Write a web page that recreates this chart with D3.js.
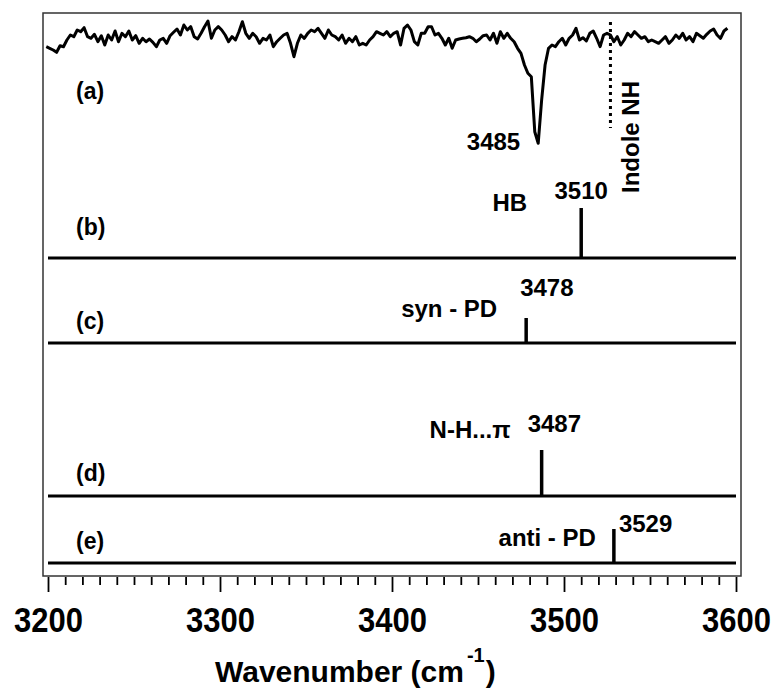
<!DOCTYPE html>
<html>
<head>
<meta charset="utf-8">
<script src="https://cdn.jsdelivr.net/npm/d3@7"></script>
<style>
  body { margin: 0; background: #fff; }
  svg { display: block; font-family: "Liberation Sans", Arial, sans-serif; font-weight: bold; }
</style>
</head>
<body>
<div id="chart"></div>
<script>
// ---- data ----
var xTicks = [3200, 3300, 3400, 3500, 3600];
var panelIds = ["(a)", "(b)", "(c)", "(d)", "(e)"];

// experimental trace (a), 3199..3595 cm-1 every 2 cm-1, relative signal
var traceStart = 3199, traceStep = 2;
var traceVals = [
  -1.7, -3.3, -5, -7.3, -0.7, -1.7, 5, 10, 8.3, 15,
  13.3, 17.3, 8.3, 6.7, 10.7, 3.3, 9.3, 0, 10, 5,
  14, 3.3, 11.7, 8.3, 14, 5, 9.3, 1.7, 6.7, 3.3,
  6, 2.7, -1.7, 5, 6.7, 1.7, 9.3, 12.7, 16, 10,
  20, 15, 18.3, 8.3, 6, 11.7, 18.3, 24, 6.7, 15,
  18.3, 15, 10, 3.3, 8.3, 5, 13.3, 23.3, 11.7, 6.7,
  11.7, 8.3, 1.7, 6.7, 5, 10, -1.7, 3.3, 6.7, 10,
  11.7, 1.7, -11.7, 1.7, 10, 6.7, 11.7, 15, 13.3, 16.7,
  11.7, 6.7, 15, 10, 8.3, 5, 10, 1.7, 6.7, 3.3,
  8.3, 0, 1.7, 0, 5, 8.3, 13.3, 11.7, 10, 13.3,
  8.3, 11.7,
  13.3, 0, 16.7, 20, 15, 3.3, 0, 11.7, 11.7, 18.3,
  18.3, 10, 11.7, 6.7, 0, 6.7, -3.3, 5, 6, 6.7,
  7.3, 8.3, 6.7, 3.3, 6, 9.3, 10, 5, 11.7, 1.7,
  13.3, 6.7, 11.7, 6.7, 3.3, -3.3, -8.3, -20, -28.3, -31.7,
  -86.7, -98.3, -55, -20, -3.3, 0, -1.7, 3.3, 6.7, 0,
  6.7, 10, 16.7,
  5, 7.3, 4, 11.7, 14, 6.7, -1.7, 10, 11.7, 10,
  3.3, 8.3, 0, 5, 11.7, 8.3, 13.3, 10, 6.7, 8.3,
  3.3, 5, 3.3, 1.7, 5, 8.3, 1.7, 5, 10, 6.7,
  11.7, 5, 8.3, 3.3, 11.7, 9.3, 6.7, 10.7, 14, 16,
  10, 6.7, 14, 16.7
];
var dipFreq = 3485;
var indoleFreq = 3527;

// calculated sticks (b)-(e)
var stickNames = ["HB", "syn - PD", "N-H...\u03c0", "anti - PD"];
var stickFreqs = [3510, 3478, 3487, 3529];
var stickIntens = [50, 25, 46, 34];

// ---- layout ----
var W = 775, H = 691;
var baseY = [258, 343, 496, 563];          // baselines of (b)..(e)
var idY = [99, 235, 329, 481, 549];          // label baselines
// [name dx (end), name y above base, freq dx, freq anchor, freq y above base]
var lab = [
  [-54, 47, 0, "middle", 59],
  [-29, 26, -6, "start", 47],
  [-31, 58, -14, "start", 64],
  [-18, 17, 5, "start", 31]
];

var svg = d3.select("#chart").append("svg")
  .attr("width", W).attr("height", H);

var x = d3.scaleLinear().domain([3200, 3600]).range([48, 736]);
var ySig = d3.scaleLinear().domain([-100, 20]).range([145, 25]);
var hStick = d3.scaleLinear().domain([0, 50]).range([0, 50]);

// frame
svg.append("rect")
  .attr("x", 43).attr("y", 13).attr("width", 698).attr("height", 563)
  .attr("fill", "none").attr("stroke", "#333").attr("stroke-width", 1.5);

// x axis: major + minor ticks
var minor = d3.range(3200, 3601, 10).filter(function (d) { return d % 100 !== 0; });
svg.append("g").attr("transform", "translate(0,577)")
  .call(d3.axisBottom(x).tickValues(minor).tickSize(8).tickFormat(""));
var gMajor = svg.append("g").attr("transform", "translate(0,577)")
  .call(d3.axisBottom(x).tickValues(xTicks).tickSize(15).tickFormat(d3.format("d")));
svg.selectAll(".domain").remove();
svg.selectAll(".tick line").attr("stroke", "#000").attr("stroke-width", 1.8);
gMajor.selectAll("text")
  .attr("y", 0).attr("dy", null)
  .attr("fill", "#000")
  .attr("transform", "translate(0,55) scale(1,1.12)")
  .style("font-size", "31px").style("font-weight", "bold")
  .style("font-family", "'Liberation Sans', Arial, sans-serif");

// axis title
var title = svg.append("text").attr("x", 215).attr("y", 682)
  .style("font-size", "30px");
title.append("tspan").text("Wavenumber (cm");
title.append("tspan").attr("dy", -20).attr("dx", 3).style("font-size", "20px").text("-1");
title.append("tspan").attr("dy", 20).attr("dx", 1).text(")");

// panel ids
svg.selectAll("text.pid").data(panelIds).enter().append("text")
  .attr("class", "pid")
  .attr("x", 76).attr("y", function (d, i) { return idY[i]; })
  .style("font-size", "23px")
  .text(function (d) { return d; });

// trace (a)
var trace = traceVals.map(function (v, i) { return [traceStart + i * traceStep, v]; });
svg.append("path").datum(trace)
  .attr("fill", "none").attr("stroke", "#000").attr("stroke-width", 3)
  .attr("stroke-linejoin", "round")
  .attr("d", d3.line().x(function (d) { return x(d[0]); }).y(function (d) { return ySig(d[1]); }));

svg.append("text").attr("x", x(dipFreq) - 18).attr("y", 150)
  .attr("text-anchor", "end").style("font-size", "24px").text(dipFreq);

// indole NH marker
svg.append("line")
  .attr("x1", x(indoleFreq)).attr("x2", x(indoleFreq))
  .attr("y1", 22).attr("y2", 128)
  .attr("stroke", "#000").attr("stroke-width", 3).attr("stroke-dasharray", "3,4");
svg.append("text")
  .attr("transform", "translate(" + (x(indoleFreq) + 29) + ",193) rotate(-90)")
  .style("font-size", "24px").text("Indole NH");

// baselines + sticks
var sticks = svg.selectAll("g.stick").data(stickFreqs).enter().append("g").attr("class", "stick");
sticks.append("line")
  .attr("x1", x(3200)).attr("x2", x(3600))
  .attr("y1", function (d, i) { return baseY[i]; }).attr("y2", function (d, i) { return baseY[i]; })
  .attr("stroke", "#000").attr("stroke-width", 3);
sticks.append("line")
  .attr("x1", function (d) { return x(d); }).attr("x2", function (d) { return x(d); })
  .attr("y1", function (d, i) { return baseY[i]; })
  .attr("y2", function (d, i) { return baseY[i] - hStick(stickIntens[i]); })
  .attr("stroke", "#000").attr("stroke-width", 3.5);
sticks.append("text")
  .attr("x", function (d, i) { return x(d) + lab[i][0]; })
  .attr("y", function (d, i) { return baseY[i] - lab[i][1]; })
  .attr("text-anchor", "end").style("font-size", "24px")
  .text(function (d, i) { return stickNames[i]; });
sticks.append("text")
  .attr("x", function (d, i) { return x(d) + lab[i][2]; })
  .attr("y", function (d, i) { return baseY[i] - lab[i][4]; })
  .attr("text-anchor", function (d, i) { return lab[i][3]; })
  .style("font-size", "24px")
  .text(function (d) { return d; });
</script>
</body>
</html>
